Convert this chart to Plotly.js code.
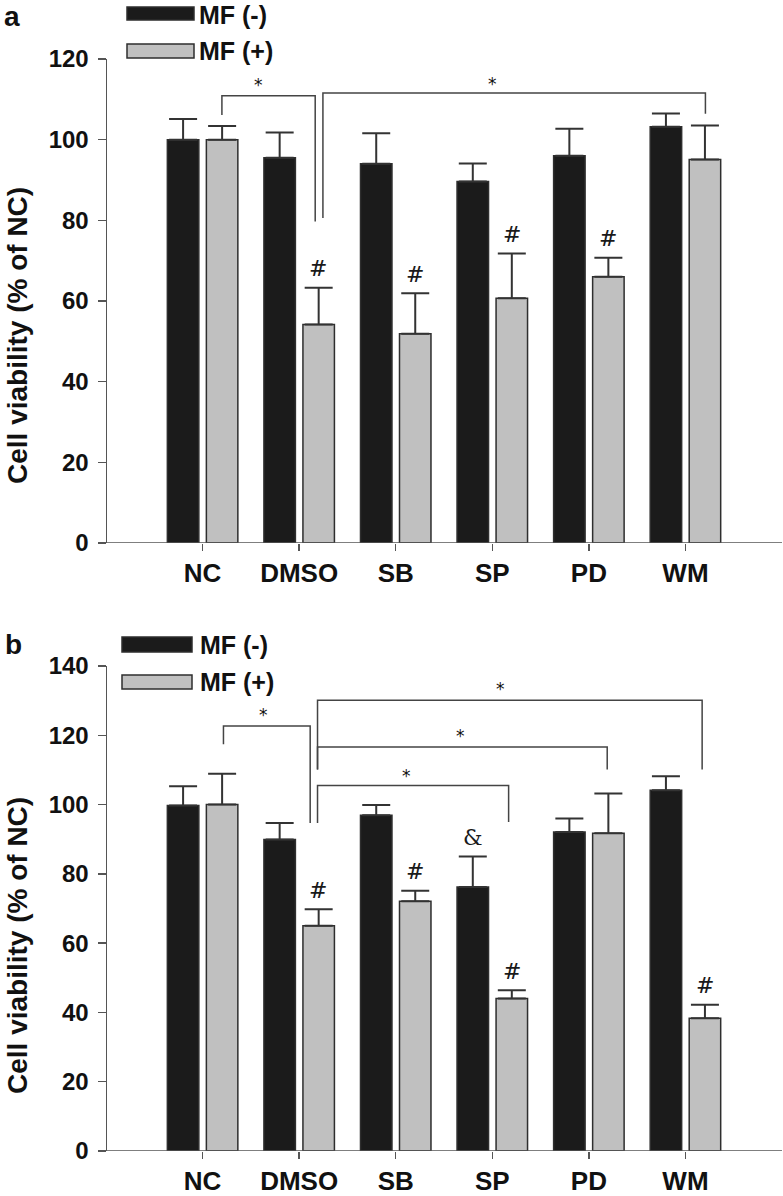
<!DOCTYPE html>
<html>
<head>
<meta charset="utf-8">
<script src="https://cdn.plot.ly/plotly-3.0.1.min.js"></script>
<style>html,body{margin:0;padding:0;background:#fff;}#chart{width:783px;height:1196px;}</style>
</head>
<body>
<div id="chart"></div>
<script>
// ---------- data ----------
const categories = ['NC', 'DMSO', 'SB', 'SP', 'PD', 'WM'];
const seriesNames = ['MF (-)', 'MF (+)'];
const panelLetters = ['a', 'b'];
const yTitle = 'Cell viability (% of NC)';

// panel a
const aMinus    = [100.0, 95.5, 94.0, 89.6, 96.0, 103.2];
const aMinusErr = [5.1, 6.3, 7.6, 4.5, 6.7, 3.3];
const aPlus     = [100.0, 54.2, 51.9, 60.7, 66.0, 95.1];
const aPlusErr  = [3.4, 9.1, 10.0, 11.1, 4.7, 8.4];
const aMinusMarks = ['', '', '', '', '', ''];
const aPlusMarks  = ['', '#', '#', '#', '#', ''];

// panel b
const bMinus    = [99.7, 89.9, 96.9, 76.2, 92.1, 104.1];
const bMinusErr = [5.6, 4.8, 3.0, 8.8, 3.9, 4.1];
const bPlus     = [100.0, 65.0, 72.1, 44.0, 91.7, 38.3];
const bPlusErr  = [8.9, 4.8, 3.0, 2.4, 11.5, 3.9];
const bMinusMarks = ['', '', '', '&', '', ''];
const bPlusMarks  = ['', '#', '#', '#', '', '#'];

// significance brackets: [xLeft, yLeftBottom, xRight, yRightBottom, yTop, starX, starY]
const aBrackets = [
  [0.2, 106.1, 1.166, 79.7, 110.9, 0.575, 114.0],
  [1.246, 80.6, 5.207, 106.4, 111.6, 3.0, 114.2]
];
const bBrackets = [
  [0.216, 117.4, 1.114, 94.7, 122.7, 0.63, 126.5],
  [1.19, 94.7, 3.169, 95.0, 105.5, 2.116, 108.9],
  [1.19, 110.1, 4.19, 110.1, 116.6, 2.668, 120.5],
  [1.19, 110.1, 5.173, 110.1, 130.1, 3.083, 133.8]
];

// ---------- layout helpers ----------
const W = 783, H = 1196;
const px = x => x / W;
const py = y => 1 - y / H;
const FONT = 'Liberation Sans, Arial, Helvetica, sans-serif';
const DARK = '#1b1b1b', GREY = '#c0c0c0', EDGE = '#2e2e2e', AX = '#555';

function barTrace(vals, errs, name, color, xa, ya) {
  return {
    type: 'bar', x: categories, y: vals, name: name, xaxis: xa, yaxis: ya,
    marker: {color: color, line: {color: EDGE, width: 1.5}},
    error_y: {type: 'data', symmetric: false, array: errs, arrayminus: errs.map(() => 0),
              color: '#333', thickness: 2, width: 14},
    showlegend: false, hoverinfo: 'skip'
  };
}

const data = [
  barTrace(aMinus, aMinusErr, seriesNames[0], DARK, 'x', 'y'),
  barTrace(aPlus, aPlusErr, seriesNames[1], GREY, 'x', 'y'),
  barTrace(bMinus, bMinusErr, seriesNames[0], DARK, 'x2', 'y2'),
  barTrace(bPlus, bPlusErr, seriesNames[1], GREY, 'x2', 'y2')
];

function xAxis(anchor) {
  return {
    domain: [px(107), px(782)], anchor: anchor, range: [-0.99, 6.0],
    showline: false, showgrid: false, zeroline: false,
    ticks: 'outside', ticklen: 7, tickwidth: 1.5, tickcolor: AX,
    tickfont: {family: FONT, size: 26, color: '#111', weight: 'bold'},
    ticklabelstandoff: 0, fixedrange: true
  };
}
function yAxis(anchor, dom, maxV) {
  return {
    domain: dom, anchor: anchor, range: [0, maxV], dtick: 20,
    showline: true, linecolor: AX, linewidth: 1.5,
    showgrid: false, zeroline: false,
    ticks: 'outside', ticklen: 8, tickwidth: 1.5, tickcolor: AX,
    tickfont: {family: FONT, size: 24, color: '#111', weight: 'bold'},
    ticklabelstandoff: 4, fixedrange: true
  };
}

const shapes = [];
const annotations = [];

function addPanel(xa, ya, brackets, minusVals, minusErr, minusMarks, plusVals, plusErr, plusMarks) {
  // x axis line (extends slightly left of the y axis)
  shapes.push({type: 'line', xref: 'paper', yref: ya, x0: px(99), x1: px(782), y0: 0, y1: 0,
               line: {color: AX, width: 1.5}});
  brackets.forEach(b => {
    shapes.push({type: 'path', xref: xa, yref: ya,
      path: `M ${b[0]} ${b[1]} L ${b[0]} ${b[4]} L ${b[2]} ${b[4]} L ${b[2]} ${b[3]}`,
      line: {color: '#444', width: 1.5}});
    annotations.push({xref: xa, yref: ya, x: b[5], y: b[6], text: '*', showarrow: false,
      font: {family: 'DejaVu Sans, sans-serif', size: 17, color: '#111'}, yanchor: 'middle', yshift: -2});
  });
  const addMarks = (vals, errs, marks, off) => {
    marks.forEach((m, i) => {
      if (!m) return;
      annotations.push({xref: xa, yref: ya, x: i + off, y: vals[i] + errs[i], text: m,
        showarrow: false, yanchor: 'middle', yshift: 19,
        font: {family: 'DejaVu Serif, serif', size: 22, color: '#1a1a1a'}});
    });
  };
  addMarks(minusVals, minusErr, minusMarks, -0.2);
  addMarks(plusVals, plusErr, plusMarks, 0.2);
}

addPanel('x', 'y', aBrackets, aMinus, aMinusErr, aMinusMarks, aPlus, aPlusErr, aPlusMarks);
addPanel('x2', 'y2', bBrackets, bMinus, bMinusErr, bMinusMarks, bPlus, bPlusErr, bPlusMarks);

// legends (drawn manually to match the long rectangular swatches)
function addLegend(x0, x1, rows, textX) {
  rows.forEach((r, i) => {
    shapes.push({type: 'rect', xref: 'paper', yref: 'paper',
      x0: px(x0), x1: px(x1), y0: py(r.y0), y1: py(r.y1),
      fillcolor: i === 0 ? DARK : GREY, line: {color: EDGE, width: 1.5}});
    const mid = (r.y0 + r.y1) / 2;
    const topRow = mid < 17;
    annotations.push({xref: 'paper', yref: 'paper', x: px(textX),
      y: topRow ? py(0) : py(mid), yanchor: topRow ? 'top' : 'middle',
      xanchor: 'left', text: seriesNames[i], showarrow: false, borderpad: 0,
      font: {family: FONT, size: 25, color: '#111', weight: 'bold'}});
  });
}
addLegend(127, 194, [{y0: 7, y1: 20}, {y0: 44, y1: 58}], 198);
addLegend(122, 192, [{y0: 637, y1: 652}, {y0: 675, y1: 689}], 199);

// panel letters
annotations.push({xref: 'paper', yref: 'paper', x: px(3), y: py(0), xanchor: 'left', yanchor: 'top',
  text: panelLetters[0], showarrow: false, borderpad: 0,
  font: {family: FONT, size: 28, color: '#111', weight: 'bold'}});
annotations.push({xref: 'paper', yref: 'paper', x: px(3), y: py(644), xanchor: 'left', yanchor: 'middle',
  text: panelLetters[1], showarrow: false, font: {family: FONT, size: 28, color: '#111', weight: 'bold'}});

// y axis titles
[[336], [946]].forEach(c => {
  annotations.push({xref: 'paper', yref: 'paper', x: px(17), y: py(c[0]), xanchor: 'center', yanchor: 'middle',
    text: yTitle, textangle: -90, showarrow: false, borderpad: 0,
    font: {family: FONT, size: 28, color: '#111', weight: 'bold'}});
});

const layout = {
  width: W, height: H, margin: {l: 0, r: 0, t: 0, b: 0},
  paper_bgcolor: '#fff', plot_bgcolor: '#fff',
  barmode: 'group', bargap: 0.192, bargroupgap: 0.193,
  showlegend: false,
  xaxis: xAxis('y'),
  yaxis: yAxis('x', [py(543), py(59)], 120),
  xaxis2: xAxis('y2'),
  yaxis2: yAxis('x2', [py(1151), py(666)], 140),
  shapes: shapes, annotations: annotations
};

Plotly.newPlot('chart', data, layout, {staticPlot: true, displayModeBar: false});
</script>
</body>
</html>
